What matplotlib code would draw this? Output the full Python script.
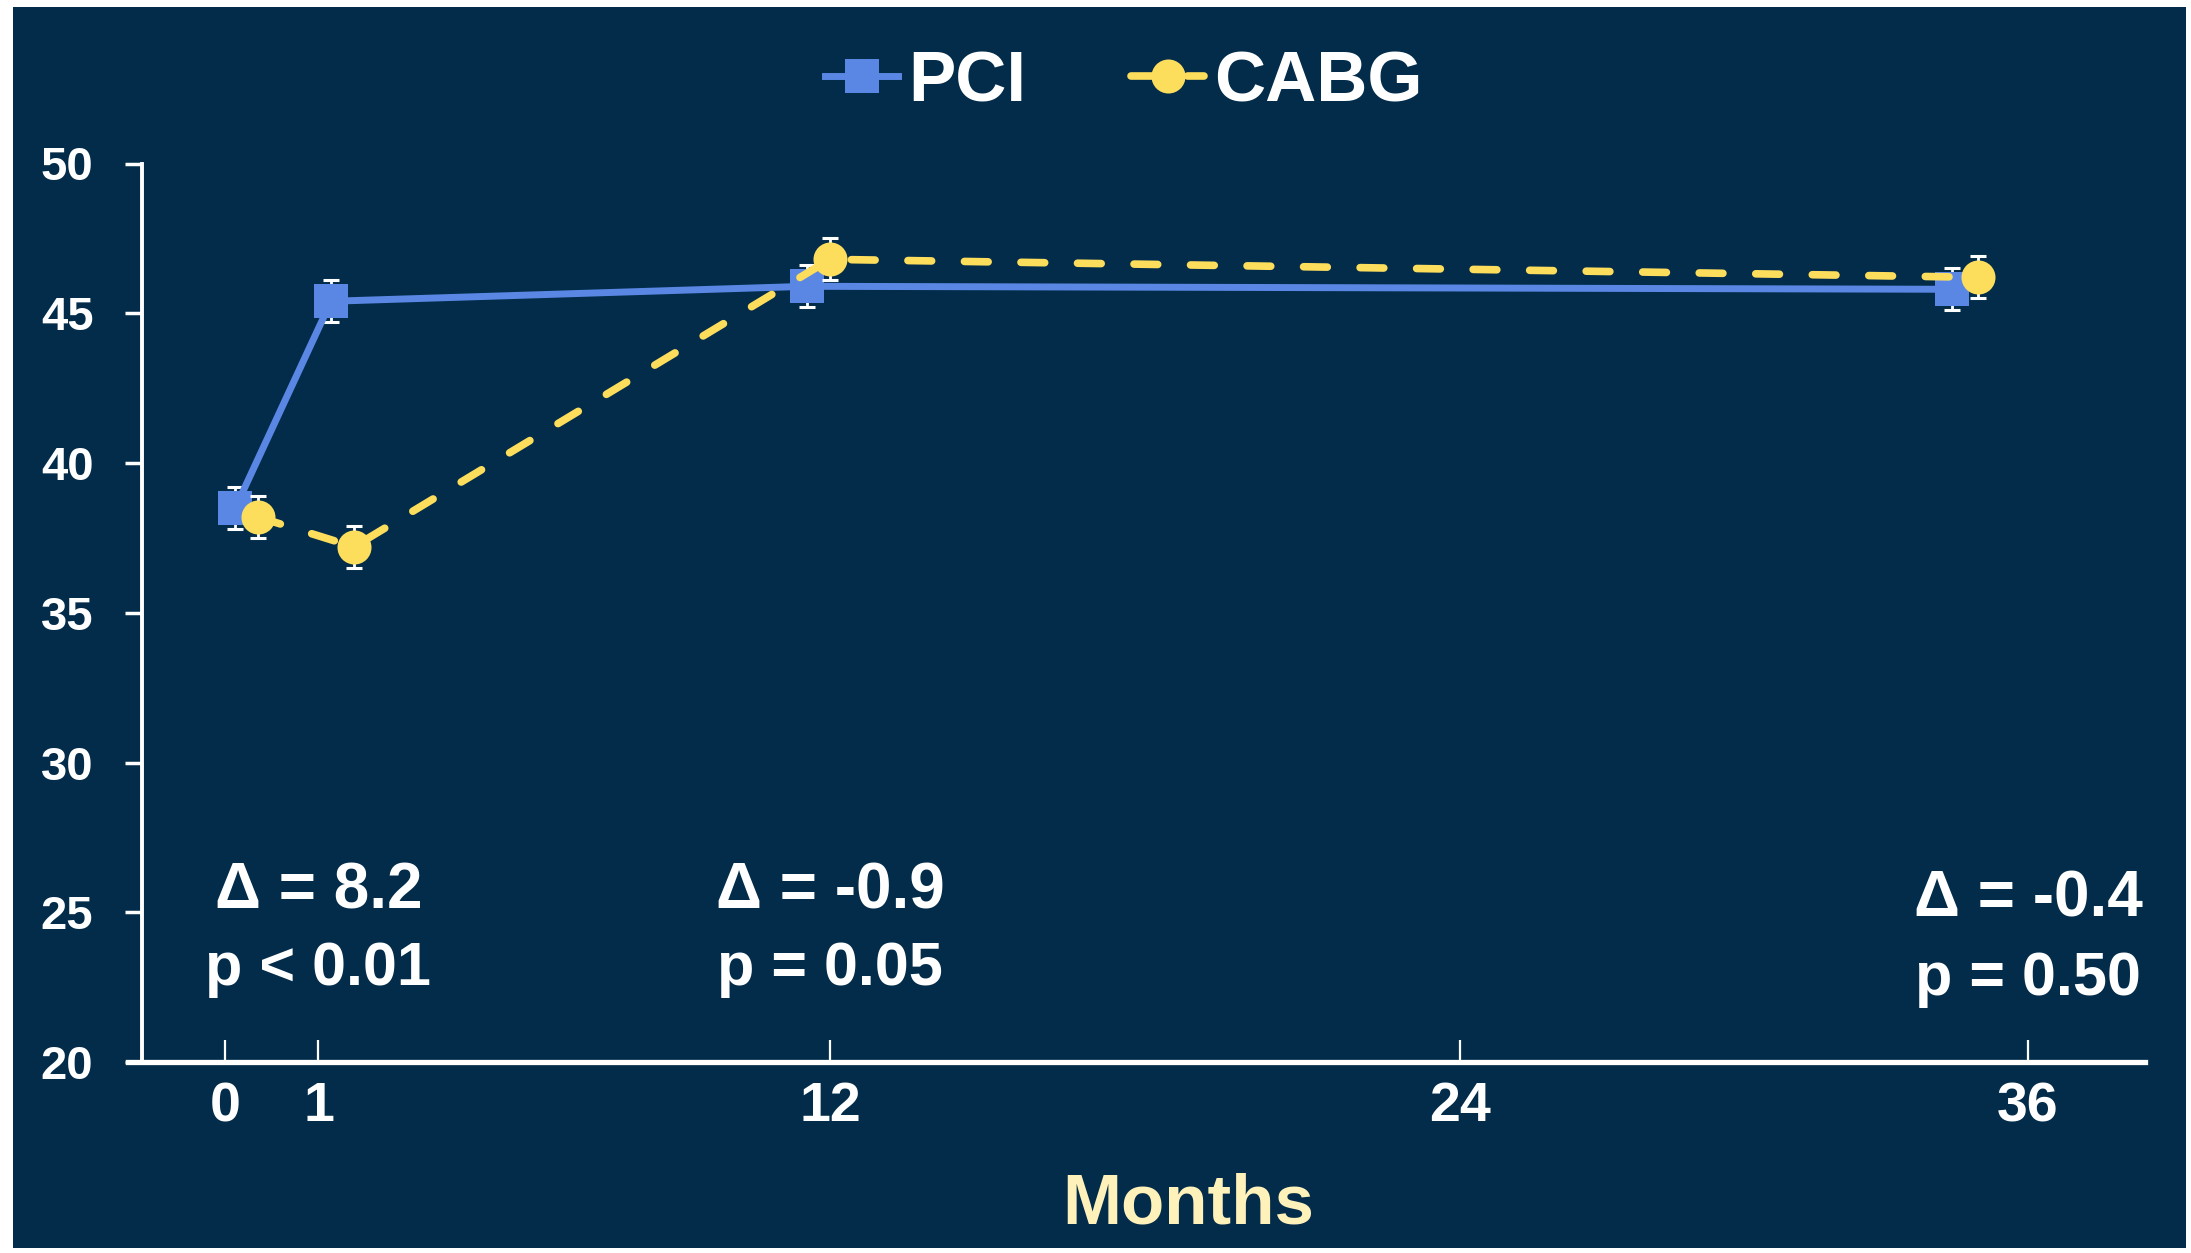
import numpy as np
import matplotlib
matplotlib.use("Agg")
import matplotlib.pyplot as plt
from matplotlib.patches import Rectangle

# ---------------- data ----------------
pci_months = [0.11, 1.27, 11.5, 34.4]
pci_values = [38.5, 45.4, 45.9, 45.8]
pci_err = [0.7, 0.7, 0.7, 0.7]

cabg_months = [0.35, 1.76, 12.0, 34.95]
cabg_values = [38.2, 37.2, 46.8, 46.2]
cabg_err = [0.7, 0.7, 0.7, 0.7]

x_ticks = [0, 1, 12, 24, 36]
y_ticks = [20, 25, 30, 35, 40, 45, 50]

annot_months = [1, 12, 36]
annot_delta = ["\u0394 = 8.2", "\u0394 = -0.9", "\u0394 = -0.4"]
annot_p = ["p < 0.01", "p = 0.05", "p = 0.50"]

# ---------------- style ----------------
BG = "#022C4A"
BLUE = "#5A87E4"
YELLOW = "#FDDD5C"
LABEL = "#FFF1BA"
plt.rcParams["font.family"] = ["Liberation Sans", "DejaVu Sans"]
plt.rcParams["font.weight"] = "bold"

W, H = 2191, 1253
fig = plt.figure(figsize=(W / 100, H / 100), dpi=100)
fig.patch.set_facecolor("white")
fig.add_artist(Rectangle((13 / W, 5 / H), (2186 - 13) / W, (1246 - 5) / H,
                         transform=fig.transFigure, facecolor=BG,
                         edgecolor="none", zorder=-10))

# axes placement (pixels of original)
ax_l, ax_r, ax_t, ax_b = 128, 2145, 163.5, 1062
ax = fig.add_axes([ax_l / W, (H - ax_b) / H, (ax_r - ax_l) / W, (ax_b - ax_t) / H])
ax.set_facecolor("none")

# non-uniform time axis as in the original slide
anchor_m = np.array([-5.0, 0.0, 1.0, 12.0, 24.0, 36.0, 45.0])
anchor_p = np.array([225 - 5 * 93.5, 225, 318.5, 830, 1460, 2028, 2028 + 9 * 47.33])


def fwd(x):
    return np.interp(x, anchor_m, anchor_p)


def inv(p):
    return np.interp(p, anchor_p, anchor_m)


ax.set_xscale("function", functions=(fwd, inv))
ax.set_xlim(inv(ax_l), inv(ax_r))
ax.set_ylim(20, 50)

# error bars
ax.errorbar(pci_months, pci_values, yerr=pci_err, fmt="none", ecolor="white",
            elinewidth=2, capsize=6, capthick=2.2, zorder=2)
ax.errorbar(cabg_months, cabg_values, yerr=cabg_err, fmt="none", ecolor="white",
            elinewidth=2, capsize=6, capthick=2.2, zorder=4)

ax.plot(pci_months, pci_values, color=BLUE, lw=5, marker="s", ms=25,
        mew=0, label="PCI", zorder=3)
ax.plot(cabg_months, cabg_values, color=YELLOW, lw=5.5, marker="o", ms=24.5,
        mew=0, dashes=(3.1, 4.3), dash_capstyle="round", label="CABG", zorder=5)

# spines
for s in ["top", "right"]:
    ax.spines[s].set_visible(False)
ax.spines["left"].set_position(("axes", (142 - ax_l) / (ax_r - ax_l)))
ax.spines["left"].set_color("white")
ax.spines["left"].set_linewidth(2.8)
ax.spines["bottom"].set_color("white")
ax.spines["bottom"].set_linewidth(3.8)

ax.set_yticks(y_ticks)
ax.set_xticks(x_ticks)
ax.set_xticklabels([str(t) for t in x_ticks])
ax.tick_params(axis="y", direction="out", length=12, width=2.5, colors="white",
               labelsize=34, pad=23)
ax.tick_params(axis="x", direction="in", length=16, width=1.6, colors="white",
               labelsize=40, pad=14)
ax.minorticks_off()

ax.set_xlabel("Months", color=LABEL, fontsize=51, fontweight="bold")
ax.xaxis.label.set_va("baseline")
ax.xaxis.set_label_coords((1188 - ax_l) / (ax_r - ax_l), -(1223 - ax_b) / (ax_b - ax_t))

# annotations
line1_y = [25.12, 25.12, 24.85]
line2_y = [22.58, 22.58, 22.25]
for m, d, p, y1, y2 in zip(annot_months, annot_delta, annot_p, line1_y, line2_y):
    ax.text(m, y1, d, ha="center", va="baseline", color="white",
            fontsize=46, fontweight="bold")
    ax.text(m, y2, p, ha="center", va="baseline", color="white",
            fontsize=44, fontweight="bold")

leg = fig.legend(loc="center", bbox_to_anchor=(1124 / W, 1 - 83 / H), ncol=2,
                 frameon=False, fontsize=51, handlelength=1.03,
                 handletextpad=0.14, columnspacing=1.48, markerscale=1.0)
for t in leg.get_texts():
    t.set_color("white")
    t.set_fontweight("bold")

fig.savefig("out.png", dpi=100, facecolor=fig.get_facecolor())
